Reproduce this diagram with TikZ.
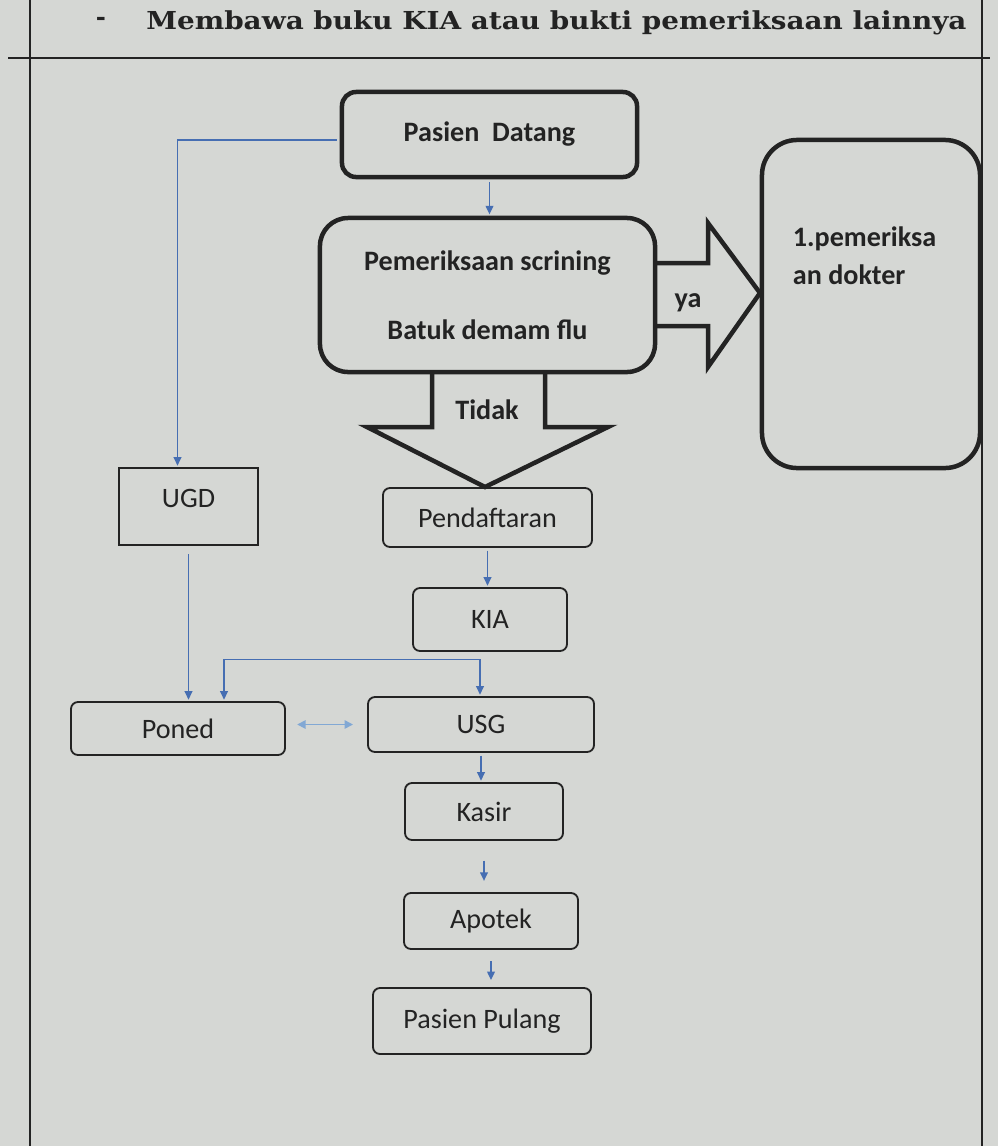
\documentclass[tikz,border=0pt]{standalone}
\usepackage{fontspec}
\setmainfont{Carlito}
\newfontfamily\headfont{DejaVu Serif}
\usepackage{tikz}
\usetikzlibrary{arrows.meta}
\definecolor{screen}{RGB}{213,215,212}
\definecolor{ink}{RGB}{35,35,35}
\definecolor{flowblue}{RGB}{70,110,178}
\definecolor{lightflow}{RGB}{130,168,212}

\begin{document}
\begin{tikzpicture}[x=0.025cm,y=-0.025cm,
	bigbox/.style={draw=ink,line width=3.2pt,rounded corners=#1,align=center,font=\fontsize{20}{23}\selectfont\bfseries,text=ink},
	bigbox/.default=10pt,
	smallbox/.style={draw=ink,line width=1.3pt,rounded corners=5pt,font=\fontsize{20}{23}\selectfont,text=ink},
	blockarrow/.style={draw=ink,line width=3.2pt,line join=miter},
	label/.style={font=\fontsize{20}{23}\selectfont\bfseries,text=ink},
	link/.style={-{Triangle[length=6pt,width=5.5pt]},flowblue,line width=0.9pt,shorten >=1pt,shorten <=2pt}]
	\useasboundingbox (0,0) rectangle (998,1146);
	\fill[screen] (0,0) rectangle (998,1146);
	
	%table lines
	\draw[ink,line width=2pt] (8,58) -- (990,58);
	\draw[ink,line width=1pt] (30,0) -- (30,1146);
	\draw[ink,line width=1pt] (982,0) -- (982,1146);
	\node[text=ink] (dash) at (101,21) {\headfont\bfseries\LARGE -};
	\node[anchor=base west,inner sep=0pt] (judul) at (146,29) {\resizebox{20.5cm}{0.47cm}{\color{ink}\headfont\bfseries Membawa buku KIA atau bukti pemeriksaan lainnya}};
	
	%upper part
	\node[bigbox=10pt,minimum width=7.375cm,minimum height=2.125cm] (datang) at (489.5,134.5) {Pasien\ \ Datang};
	\node[bigbox=20pt,minimum width=8.375cm,minimum height=3.85cm] (skrining) at (487.5,295) {Pemeriksaan scrining\\[26pt]Batuk demam flu};
	\node[bigbox=25pt,minimum width=5.45cm,minimum height=8.2cm] (dokter) at (871,304) {};
	\node[label,anchor=north west,align=left] (doktertext) at (788,222) {1.pemeriksa\\[4pt]an dokter};
	
	%block arrows
	\draw[blockarrow] (655,263) -- (708,263) -- (708,223) -- (760,293) -- (708,367) -- (708,326) -- (655,326);
	\node[label] (ya) at (688,303) {ya};
	\draw[blockarrow] (432,372) -- (432,427) -- (367,427) -- (485,487) -- (608,427) -- (545,427) -- (545,372);
	\node[label] (tidak) at (487,410) {Tidak};
	
	%lower boxes
	\node[smallbox,rounded corners=0pt,minimum width=3.475cm,minimum height=1.925cm] (ugd) at (188.5,506.5) {\raisebox{12pt}{UGD}};
	\node[smallbox,minimum width=5.225cm,minimum height=1.475cm] (daftar) at (487.5,517.5) {Pendaftaran};
	\node[smallbox,minimum width=3.85cm,minimum height=1.575cm] (kia) at (490,619.5) {KIA};
	\node[smallbox,minimum width=5.35cm,minimum height=1.325cm] (poned) at (178,728.5) {Poned};
	\node[smallbox,minimum width=5.65cm,minimum height=1.375cm] (usg) at (481,724.5) {USG};
	\node[smallbox,minimum width=3.95cm,minimum height=1.425cm] (kasir) at (484,811.5) {Kasir};
	\node[smallbox,minimum width=4.35cm,minimum height=1.4cm] (apotek) at (491,921) {Apotek};
	\node[smallbox,minimum width=5.45cm,minimum height=1.65cm] (pulang) at (482,1021) {Pasien Pulang};
	
	%connectors
	\draw[link] (datang.south) -- (datang.south |- skrining.north);
	\draw[link] ([yshift=-0.14cm]datang.west) -| ([xshift=-0.275cm]ugd.north);
	\draw[link,shorten <=6pt] (ugd.south) -- (ugd.south |- poned.north);
	\draw[link] (daftar.south) -- (daftar.south |- kia.north);
	\coordinate (cabang) at ([xshift=-0.25cm,yshift=-0.18cm]kia.south);
	\draw[link,shorten <=0pt] (cabang) -- (cabang |- usg.north);
	\draw[link,shorten <=0pt] (cabang) -| ([xshift=1.15cm]poned.north);
	\draw[{Triangle[length=6pt,width=6pt]}-{Triangle[length=6pt,width=6pt]},lightflow,line width=1.2pt,shorten >=10pt,shorten <=8pt] (poned.east |- usg.west) -- (usg.west);
	\draw[link] (usg.south) -- (usg.south |- kasir.north);
	\draw[link,shorten <=14pt,shorten >=8pt] (kasir.south) -- (kasir.south |- apotek.north);
	\draw[link,shorten <=8pt,shorten >=5pt] (apotek.south) -- (apotek.south |- pulang.north);
\end{tikzpicture}
\end{document}
